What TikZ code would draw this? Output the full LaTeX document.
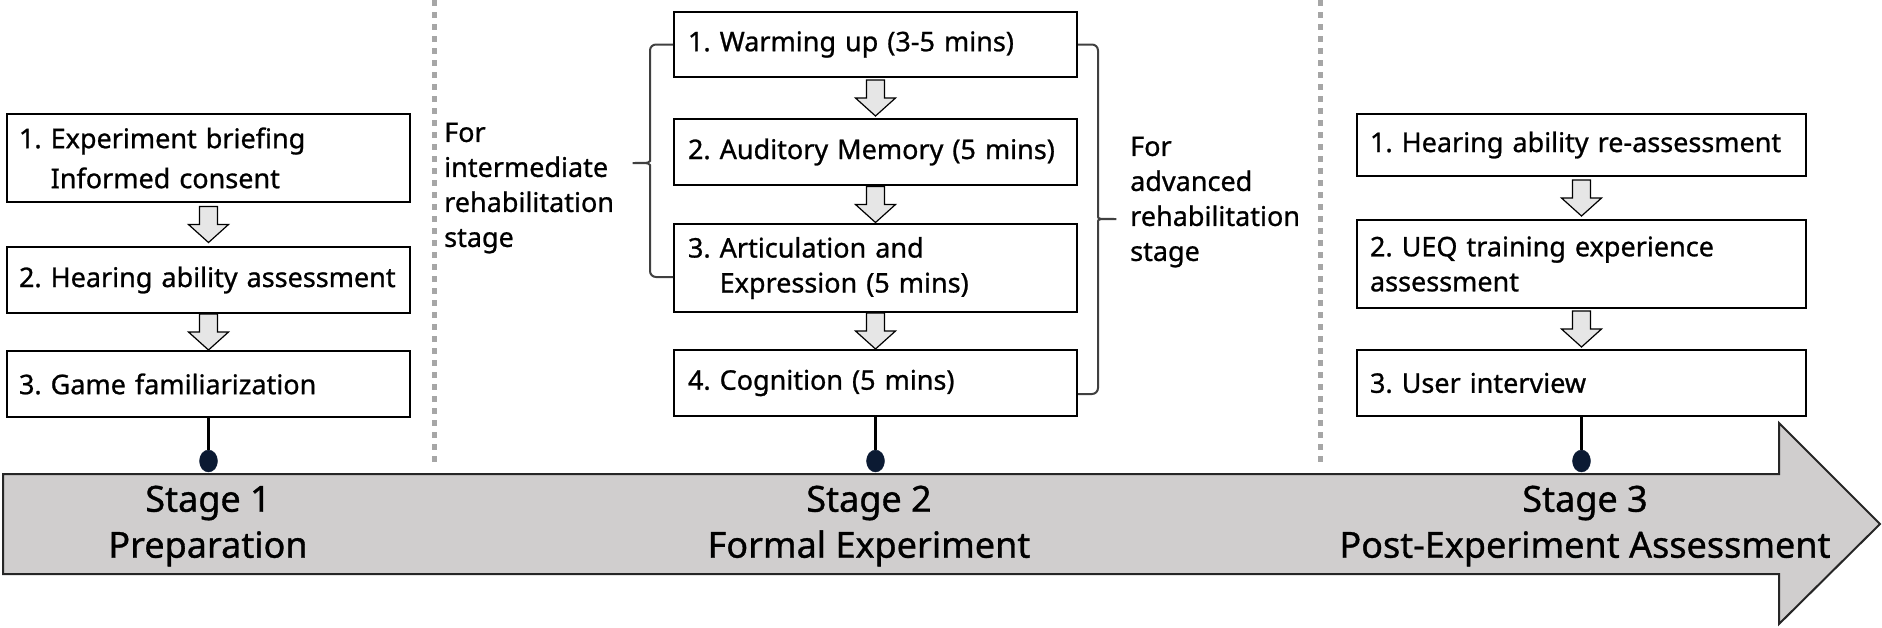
\documentclass[tikz,border=0pt]{standalone}
\usepackage{fontspec}
\setmainfont{Noto Sans}[UprightFeatures={FakeBold=0.9}]
\usetikzlibrary{calc, shapes.geometric}

\definecolor{bargray}{HTML}{D0CECE}
\definecolor{arrowgray}{HTML}{E6E6E6}
\definecolor{dotline}{HTML}{A6A6A6}
\definecolor{bracegray}{HTML}{404040}
\definecolor{dotnavy}{HTML}{0B1A33}

\begin{document}
\frenchspacing
\begin{tikzpicture}[x=1pt, y=-1pt,
    every node/.style={font=\fontsize{27}{35}\selectfont},
    stepbox/.style={draw, line width=2pt, align=left, inner xsep=12pt, inner ysep=0pt, text width=#1},
    blockarrow/.style={draw, line width=1.2pt, fill=arrowgray, line join=miter},
    stagedot/.style={ellipse, fill=dotnavy, draw=dotnavy, minimum width=18pt, minimum height=22pt, inner sep=0pt},
    stem/.style={line width=2.5pt},
    brace/.style={draw=bracegray, line width=2pt, rounded corners=6pt},
    divider/.style={draw=dotline, line width=5pt, dash pattern=on 6pt off 6pt},
    stagelabel/.style={font=\fontsize{36}{46}\selectfont, align=center, inner sep=0pt},
    note/.style={align=left, inner sep=0pt, anchor=west}
]
\useasboundingbox (0,0) rectangle (1882,627);
% stage dividers
\draw[divider] (434,0) -- (434,462);
\draw[divider] (1320,0) -- (1320,462);
% timeline bar
\draw[draw=black!85, fill=bargray, line width=2pt] (3,474) -- (1779,474) -- (1779,423) -- (1880,524) -- (1779,624) -- (1779,574) -- (3,574) -- cycle;
% stage 1
\node[stepbox=379pt, minimum height=88pt, font=\fontsize{27}{40}\selectfont] (p1) at (208.5,158) {1. Experiment briefing\\\phantom{1. }Informed consent};
\node[stepbox=379pt, minimum height=66pt] (p2) at (208.5,280) {2. Hearing ability assessment};
\node[stepbox=379pt, minimum height=66pt] (p3) at (208.5,384) {3. Game familiarization};
\coordinate (p12) at ($(p1.south)!0.5!(p2.north)$);
\coordinate (p23) at ($(p2.south)!0.5!(p3.north)$);
% stage 2
\node[stepbox=375pt, inner xsep=14pt, minimum height=65pt] (f1) at (875.5,44.5) {1. Warming up (3-5 mins)};
\node[stepbox=375pt, inner xsep=14pt, minimum height=66pt] (f2) at (875.5,152) {2. Auditory Memory (5 mins)};
\node[stepbox=375pt, inner xsep=14pt, minimum height=88pt] (f3) at (875.5,268) {3. Articulation and\\\phantom{3. }Expression (5 mins)};
\node[stepbox=375pt, inner xsep=14pt, minimum height=66pt] (f4) at (875.5,383) {4. Cognition (5 mins)};
\coordinate (f12) at ($(f1.south)!0.5!(f2.north)$);
\coordinate (f23) at ($(f2.south)!0.5!(f3.north)$);
\coordinate (f34) at ($(f3.south)!0.5!(f4.north)$);
% stage 3
\node[stepbox=423pt, inner xsep=13pt, minimum height=62pt] (a1) at (1581.5,145) {1. Hearing ability re-assessment};
\node[stepbox=423pt, inner xsep=13pt, minimum height=88pt] (a2) at (1581.5,264) {2. UEQ training experience\\assessment};
\node[stepbox=423pt, inner xsep=13pt, minimum height=66pt] (a3) at (1581.5,383) {3. User interview};
\coordinate (a12) at ($(a1.south)!0.5!(a2.north)$);
\coordinate (a23) at ($(a2.south)!0.5!(a3.north)$);
% hollow down arrows between the steps
\foreach \gap in {p12,p23,f12,f23,f34,a12,a23}
  \draw[blockarrow, shift={(\gap)}] (-9,-18) -- (9,-18) -- (9,0) -- (20,0) -- (0,18) -- (-20,0) -- (-9,0) -- cycle;
% braces and notes
\draw[brace] (f1.west) -- (650,44.5) -- (650,155) to[out=-90,in=0] (629,163) to[out=0,in=90] (650,171) -- (650,277) -- (f3.west |- 0,277);
\draw[brace] (f1.east) -- (1098,44.5) -- (1098,211) to[out=-90,in=180] (1120,219) to[out=180,in=90] (1098,227) -- (1098,394) -- (f4.east |- 0,394);
\node[note] (intnote) at (444,188) {For\\intermediate\\rehabilitation\\stage};
\node[note] (advnote) at (1130,202) {For\\advanced\\rehabilitation\\stage};
% stems to the timeline
\node[stagedot] (d1) at (p3.south |- 0,461) {};
\node[stagedot] (d2) at (f4.south |- 0,461) {};
\node[stagedot] (d3) at (a3.south |- 0,461) {};
\draw[stem] (p3.south) -- (d1.north);
\draw[stem] (f4.south) -- (d2.north);
\draw[stem] (a3.south) -- (d3.north);
% stage labels
\node[stagelabel] (s1) at (208,526) {Stage 1\\Preparation};
\node[stagelabel] (s2) at (869,526) {Stage 2\\Formal Experiment};
\node[stagelabel] (s3) at (1585,526) {Stage 3\\Post-Experiment Assessment};
\end{tikzpicture}
\end{document}
